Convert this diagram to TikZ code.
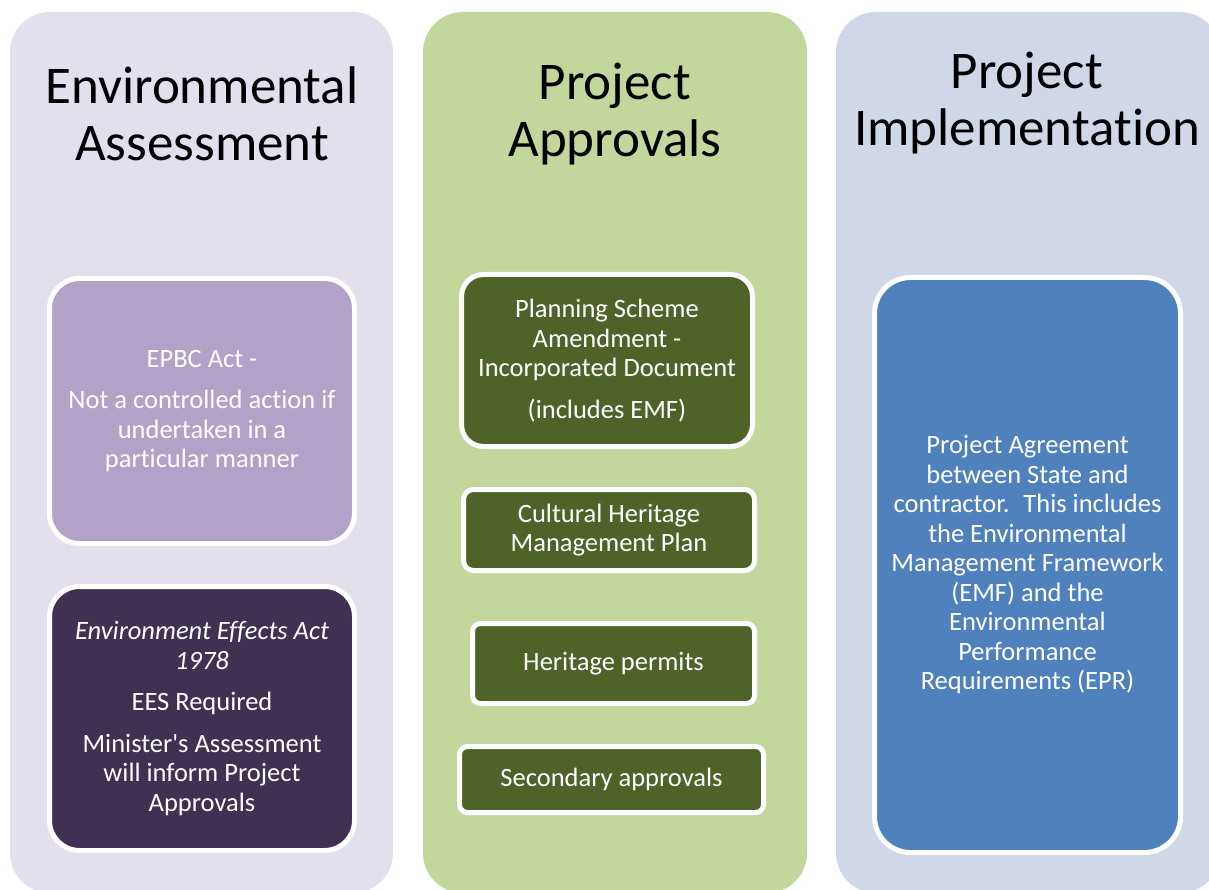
\documentclass[tikz,border=0pt]{standalone}
\usepackage{fontspec}
\setmainfont{Carlito}[Ligatures=NoCommon]
\usetikzlibrary{positioning}
\definecolor{assessbg}{RGB}{228,223,236}
\definecolor{approvbg}{RGB}{195,214,155}
\definecolor{implbg}{RGB}{208,216,232}
\definecolor{epbcfill}{RGB}{179,162,199}
\definecolor{eesfill}{RGB}{64,49,82}
\definecolor{permitfill}{RGB}{79,98,40}
\definecolor{agreefill}{RGB}{79,129,189}

\tikzset{
  column/.style={rounded corners=40pt},
  heading/.style={font=\fontsize{53}{57}\selectfont, align=center, text=black, inner sep=0pt},
  stage/.style={draw=white, line width=5pt, text=white, align=center,
    font=\fontsize{26.5}{29.5}\selectfont, inner sep=0pt},
}

\begin{document}
\begin{tikzpicture}[x=1pt, y=-1pt]

\clip (0,0) rectangle (1209,890);

% Column backgrounds
\fill[assessbg, column] (10,12) rectangle (393,893);
\fill[approvbg, column] (423,12) rectangle (807,893);
\fill[implbg, column] (836,12) rectangle (1220,893);

% Headings
\node[heading] (assesshead) at (202,114) {Environmental\\Assessment};
\node[heading] (approvhead) at (615,114) {Project\\Approvals};
\node[heading] (implhead) at (1027,103) {Project\\Implementation};

% Environmental assessment
\node[stage, fill=epbcfill, rounded corners=30pt, minimum width=305pt, minimum height=265pt]
  (epbc) at (202,411) {EPBC Act -\\[12pt]Not a controlled action if\\undertaken in a\\particular manner};
\node[stage, fill=eesfill, rounded corners=30pt, minimum width=305pt, minimum height=264pt]
  (ees) at (202,718.5) {\itshape Environment Effects Act\\\itshape 1978\\[12pt]EES Required\\[12pt]Minister\textquotesingle s Assessment\\will inform Project\\Approvals};

% Project approvals
\node[stage, fill=permitfill, rounded corners=22pt, minimum width=291pt, minimum height=172pt]
  (psa) at (607,360.5) {Planning Scheme\\Amendment -\\Incorporated Document\\[12pt](includes EMF)};
\node[stage, fill=permitfill, rounded corners=10pt, minimum width=291pt, minimum height=81pt]
  (chmp) at (609,530) {Cultural Heritage\\Management Plan};
\node[stage, fill=permitfill, rounded corners=8pt, minimum width=282pt, minimum height=80pt]
  (permits) at (613.5,663.5) {Heritage permits};
\node[stage, fill=permitfill, rounded corners=8pt, minimum width=304pt, minimum height=66pt]
  (secondary) at (611.5,779.5) {Secondary approvals};

% Project implementation
\node[stage, fill=agreefill, rounded corners=36pt, minimum width=306pt, minimum height=575pt]
  (agreement) at (1027.5,565) {Project Agreement\\between State and\\contractor.~ This includes\\the Environmental\\Management Framework\\(EMF) and the\\Environmental\\Performance\\Requirements (EPR)};

\end{tikzpicture}
\end{document}
